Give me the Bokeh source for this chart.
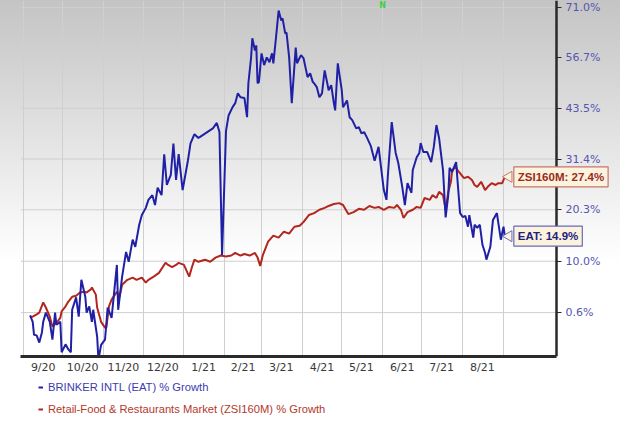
import numpy as np
from bokeh.plotting import figure
from bokeh.layouts import column
from bokeh.models import Range1d, FixedTicker, Legend, LegendItem, Label
from bokeh.embed import file_html
from bokeh.resources import INLINE

# ---------------- data ----------------
eat_dates = [
    "2020-09-06", "2020-09-08", "2020-09-09", "2020-09-11", "2020-09-13", "2020-09-15", "2020-09-16",
    "2020-09-18", "2020-09-21", "2020-09-23", "2020-09-25", "2020-09-26", "2020-09-29", "2020-09-30",
    "2020-10-03", "2020-10-05", "2020-10-07", "2020-10-08", "2020-10-11", "2020-10-13", "2020-10-15",
    "2020-10-18", "2020-10-19", "2020-10-21", "2020-10-23", "2020-10-24", "2020-10-27", "2020-10-28",
    "2020-10-30", "2020-11-02", "2020-11-04", "2020-11-07", "2020-11-11", "2020-11-12", "2020-11-15",
    "2020-11-18", "2020-11-20", "2020-11-23", "2020-11-25", "2020-11-28", "2020-11-30", "2020-12-03",
    "2020-12-05", "2020-12-08", "2020-12-10", "2020-12-12", "2020-12-15", "2020-12-17", "2020-12-19",
    "2020-12-22", "2020-12-24", "2020-12-26", "2020-12-28", "2020-12-31", "2021-01-04", "2021-01-06",
    "2021-01-09", "2021-01-12", "2021-01-13", "2021-01-23", "2021-01-26", "2021-01-28", "2021-01-30",
    "2021-02-02", "2021-02-04", "2021-02-07", "2021-02-09", "2021-02-11", "2021-02-13", "2021-02-16",
    "2021-02-18", "2021-02-19", "2021-02-21", "2021-02-22", "2021-02-24", "2021-02-25", "2021-02-26",
    "2021-02-27", "2021-03-01", "2021-03-03", "2021-03-05", "2021-03-07", "2021-03-09", "2021-03-10",
    "2021-03-12", "2021-03-14", "2021-03-16", "2021-03-17", "2021-03-19", "2021-03-20", "2021-03-22",
    "2021-03-24", "2021-03-27", "2021-03-28", "2021-03-31", "2021-04-02", "2021-04-05", "2021-04-07",
    "2021-04-09", "2021-04-10", "2021-04-12", "2021-04-14", "2021-04-16", "2021-04-18", "2021-04-20",
    "2021-04-21", "2021-04-23", "2021-04-25", "2021-04-26", "2021-04-28", "2021-05-01", "2021-05-02",
    "2021-05-05", "2021-05-07", "2021-05-09", "2021-05-12", "2021-05-14", "2021-05-16", "2021-05-18",
    "2021-05-20", "2021-05-23", "2021-05-26", "2021-05-29", "2021-06-02", "2021-06-04", "2021-06-05",
    "2021-06-08", "2021-06-11", "2021-06-13", "2021-06-16", "2021-06-18", "2021-06-20", "2021-06-23",
    "2021-06-24", "2021-06-27", "2021-06-29", "2021-06-30", "2021-07-02", "2021-07-05", "2021-07-08",
    "2021-07-10", "2021-07-12", "2021-07-14", "2021-07-17", "2021-07-19", "2021-07-21", "2021-07-22",
    "2021-07-24", "2021-07-26", "2021-07-27", "2021-07-28", "2021-07-30", "2021-08-01", "2021-08-03",
    "2021-08-05", "2021-08-06", "2021-08-09", "2021-08-10", "2021-08-12", "2021-08-14", "2021-08-16",
    "2021-08-18", "2021-08-19", "2021-08-22", "2021-08-24", "2021-08-27", "2021-08-28", "2021-08-30",
    "2021-09-01", "2021-09-02",
]
eat_growth = [
    0.1, -1.0, -3.2, -3.3, -4.5, -2.8, -1.0,
    0.6, -1.0, -4.0, 0.6, -1.5, -1.0, -6.1,
    -4.8, -5.6, -6.1, 1.1, 3.3, -0.1, 6.5,
    3.4, 0.6, 1.7, -1.0, 1.1, -3.5, -7.3,
    -4.9, -4.0, 1.5, -0.3, 9.3, 1.1, 7.1,
    11.8, 9.9, 14.2, 12.8, 17.2, 19.2, 20.7,
    22.4, 23.4, 21.3, 25.0, 23.4, 32.5, 25.6,
    27.8, 35.0, 26.7, 32.5, 24.5, 31.0, 35.0,
    37.2, 36.3, 36.5, 38.6, 39.9, 37.7, 11.2,
    38.0, 41.8, 43.8, 44.8, 47.3, 46.3, 46.1,
    41.3, 49.9, 56.5, 62.1, 58.7, 60.1, 49.9,
    50.2, 57.9, 54.7, 56.8, 55.5, 57.9, 55.2,
    62.3, 70.1, 67.2, 67.8, 63.5, 63.7, 56.8,
    44.8, 59.5, 55.2, 57.4, 56.5, 51.5, 52.5,
    50.2, 49.9, 48.9, 46.3, 47.3, 53.3, 49.9,
    48.1, 49.4, 44.8, 43.0, 55.2, 48.1, 43.8,
    45.5, 41.3, 40.6, 38.6, 38.9, 37.4, 37.7,
    36.5, 34.5, 31.0, 34.2, 24.5, 22.4, 27.4,
    40.1, 32.8, 30.5, 25.2, 21.3, 26.0, 23.9,
    28.9, 31.8, 32.8, 35.1, 33.0, 33.0, 30.7,
    34.2, 39.4, 36.3, 28.9, 18.7, 23.4, 29.4,
    28.5, 30.0, 30.7, 26.7, 19.6, 18.8, 19.0,
    16.8, 19.2, 14.6, 17.2, 16.6, 17.2, 13.2,
    11.6, 10.3, 12.8, 18.2, 19.6, 17.7, 14.2,
    16.8, 14.9,
]

zsi_dates = [
    "2020-09-06", "2020-09-08", "2020-09-11", "2020-09-13", "2020-09-16", "2020-09-18", "2020-09-21",
    "2020-09-23", "2020-09-26", "2020-09-29", "2020-09-30", "2020-10-03", "2020-10-05", "2020-10-08",
    "2020-10-11", "2020-10-14", "2020-10-17", "2020-10-19", "2020-10-22", "2020-10-23", "2020-10-26",
    "2020-10-27", "2020-10-30", "2020-11-02", "2020-11-03", "2020-11-05", "2020-11-07", "2020-11-11",
    "2020-11-13", "2020-11-15", "2020-11-19", "2020-11-23", "2020-11-26", "2020-11-30", "2020-12-03",
    "2020-12-05", "2020-12-09", "2020-12-13", "2020-12-18", "2020-12-20", "2020-12-23", "2020-12-26",
    "2020-12-28", "2021-01-01", "2021-01-05", "2021-01-07", "2021-01-09", "2021-01-12", "2021-01-17",
    "2021-01-21", "2021-01-25", "2021-01-29", "2021-02-02", "2021-02-06", "2021-02-09", "2021-02-13",
    "2021-02-16", "2021-02-20", "2021-02-24", "2021-02-26", "2021-02-28", "2021-03-02", "2021-03-06",
    "2021-03-10", "2021-03-14", "2021-03-18", "2021-03-22", "2021-03-26", "2021-03-30", "2021-04-02",
    "2021-04-06", "2021-04-10", "2021-04-14", "2021-04-18", "2021-04-21", "2021-04-25", "2021-04-29",
    "2021-05-02", "2021-05-06", "2021-05-10", "2021-05-14", "2021-05-18", "2021-05-22", "2021-05-26",
    "2021-05-29", "2021-06-02", "2021-06-06", "2021-06-10", "2021-06-12", "2021-06-15", "2021-06-17",
    "2021-06-20", "2021-06-24", "2021-06-27", "2021-06-30", "2021-07-03", "2021-07-07", "2021-07-09",
    "2021-07-12", "2021-07-14", "2021-07-17", "2021-07-19", "2021-07-21", "2021-07-23", "2021-07-24",
    "2021-07-27", "2021-07-28", "2021-07-31", "2021-08-02", "2021-08-05", "2021-08-08", "2021-08-10",
    "2021-08-12", "2021-08-15", "2021-08-18", "2021-08-20", "2021-08-23", "2021-08-26", "2021-08-28",
    "2021-08-31", "2021-09-02",
]
zsi_growth = [
    -0.1, -0.1, 0.3, 0.6, 2.4, 1.5, -0.1,
    -1.8, -1.2, -0.3, 0.8, 1.7, 2.5, 3.4,
    3.6, 4.2, 4.3, 4.2, 4.7, 5.1, 3.8,
    1.5, -1.0, -2.0, -2.0, 1.7, 2.9, 4.3,
    3.4, 5.6, 6.5, 6.9, 6.5, 6.9, 6.0,
    6.5, 7.1, 7.8, 9.7, 9.3, 8.9, 9.3,
    9.7, 9.3, 7.1, 8.8, 10.3, 9.9, 10.3,
    9.9, 10.7, 11.1, 10.9, 11.1, 11.6, 11.1,
    11.4, 11.1, 11.6, 10.7, 9.1, 11.2, 13.8,
    15.0, 14.6, 15.8, 15.4, 16.8, 17.0, 17.8,
    19.2, 19.6, 20.3, 20.7, 21.1, 21.5, 21.7,
    21.3, 19.4, 19.8, 20.5, 20.3, 21.1, 20.7,
    20.9, 20.3, 20.9, 20.7, 21.3, 20.3, 18.6,
    19.8, 20.3, 20.9, 20.7, 22.8, 22.4, 23.4,
    22.8, 24.1, 23.4, 20.3, 24.1, 26.3, 28.9,
    29.6, 28.9, 27.8, 27.1, 27.4, 26.7, 25.6,
    25.2, 26.3, 24.5, 25.2, 26.0, 25.6, 26.0,
    26.0, 27.4,
]

y_tick_values = [0.6, 10.0, 20.3, 31.4, 43.5, 56.7, 71.0]
y_tick_labels = ["0.6%", "10.0%", "20.3%", "31.4%", "43.5%", "56.7%", "71.0%"]

month_starts = ["2020-09-01", "2020-10-01", "2020-11-01", "2020-12-01", "2021-01-01", "2021-02-01",
                "2021-03-01", "2021-04-01", "2021-05-01", "2021-06-01", "2021-07-01", "2021-08-01",
                "2021-09-01"]
month_label_dates = ["2020-09-16", "2020-10-16", "2020-11-16", "2020-12-16", "2021-01-16", "2021-02-15",
                     "2021-03-16", "2021-04-16", "2021-05-16", "2021-06-16", "2021-07-16", "2021-08-16"]
month_labels = ["9/20", "10/20", "11/20", "12/20", "1/21", "2/21", "3/21", "4/21", "5/21", "6/21",
                "7/21", "8/21"]

series_names = ["BRINKER INTL (EAT) % Growth", "Retail-Food & Restaurants Market (ZSI160M) % Growth"]
end_labels = ["EAT: 14.9%", "ZSI160M: 27.4%"]

# ---------------- helpers ----------------
DAY = 86400e3


def ms(dates):
    return np.array(dates, dtype="datetime64[ms]").astype("int64").astype(float)


def factor(values):
    return 1.0 + np.asarray(values, dtype=float) / 100.0


eat_x, zsi_x = ms(eat_dates), ms(zsi_dates)
eat_y, zsi_y = factor(eat_growth), factor(zsi_growth)

# layout of the time axis (pixels -> days)
day_per_px = 365.0 / 480.0
first_month = ms(month_starts)[0]
last_month = ms(month_starts)[-1]
x_start = first_month - 3 * day_per_px * DAY
x_axis = last_month + 53 * day_per_px * DAY
x_end = x_axis + 64 * day_per_px * DAY

BLUE = "#2020a6"
RED = "#b3261e"
BLUE_TXT = "#3b3bb0"
RED_TXT = "#b3382c"
GRID = "#cfcfcf"

p = figure(width=620, height=376, output_backend="svg", toolbar_location=None,
           y_axis_type="log", y_axis_location="right",
           x_range=Range1d(x_start, x_end), y_range=Range1d(0.9321, 1.7310),
           min_border_left=20, min_border_right=0, min_border_top=0, min_border_bottom=19)

p.background_fill_color = None
p.border_fill_color = None
p.outline_line_color = None
p.styles = {"background": "linear-gradient(180deg, #c4c4c4 0%, #d8d8d8 24%, #ebebeb 46%, #f9f9f9 62%, #ffffff 70%)"}

# grids
p.xgrid.ticker = FixedTicker(ticks=list(ms(month_starts)))
p.xgrid.grid_line_color = GRID
p.xgrid.grid_line_width = 1
p.ygrid.visible = False
yt = [float(v) for v in factor(y_tick_values)]
p.segment(x0=[x_start] * len(yt), x1=[x_axis] * len(yt), y0=yt, y1=yt, line_color=GRID, line_width=1)

# y axis drawn at a fixed position inside the frame
p.yaxis.fixed_location = x_axis
p.yaxis.ticker = FixedTicker(ticks=yt)
p.yaxis.major_label_overrides = {t: lab for t, lab in zip(yt, y_tick_labels)}
p.yaxis.axis_line_color = "#2a2a2a"
p.yaxis.axis_line_width = 2.5
p.yaxis.major_tick_line_color = "#2a2a2a"
p.yaxis.major_tick_in = 0
p.yaxis.major_tick_out = 5
p.yaxis.minor_tick_line_color = None
p.yaxis.major_label_text_color = "#5656b0"
p.yaxis.major_label_text_font = "DejaVu Sans"
p.yaxis.major_label_text_font_size = "11px"
p.yaxis.major_label_standoff = 4

# x axis
xt = [float(v) for v in ms(month_label_dates)]
p.xaxis.ticker = FixedTicker(ticks=xt)
p.xaxis.bounds = (x_start, x_axis)
p.xaxis.major_label_overrides = {t: lab for t, lab in zip(xt, month_labels)}
p.xaxis.axis_line_color = "#2a2a2a"
p.xaxis.axis_line_width = 3
p.xaxis.major_tick_line_color = None
p.xaxis.major_tick_out = 0
p.xaxis.major_tick_in = 0
p.xaxis.minor_tick_line_color = None
p.xaxis.major_label_text_color = "#3a3a3a"
p.xaxis.major_label_text_font = "DejaVu Sans"
p.xaxis.major_label_text_font_size = "11px"
p.xaxis.major_label_standoff = 4

# lines
p.line(zsi_x, zsi_y, line_color=RED, line_width=2)
p.line(eat_x, eat_y, line_color=BLUE, line_width=2)

# callouts at the line ends
for txt, xx, yy, tcol, bcol in [(end_labels[1], zsi_x[-1], zsi_y[-1], "#9c2a22", "#c4766c"),
                                (end_labels[0], eat_x[-1], eat_y[-1], "#23237f", "#6a6ab8")]:
    p.scatter([xx + 3 * DAY], [yy], marker="triangle", angle=np.pi / 2, size=11,
              fill_color="#fbf3dd", line_color=bcol, line_width=1)
    p.add_layout(Label(x=xx, y=yy, x_offset=9, text=txt, text_align="left", text_baseline="middle",
                       text_font="Liberation Sans", text_font_style="bold", text_font_size="11.5px",
                       text_color=tcol, background_fill_color="#fbf3dd", border_line_color=bcol,
                       border_line_width=1.2, padding=4))

p.add_layout(Label(x=ms(["2021-06-01"])[0], y=1.7310, text="N", text_align="center",
                   text_baseline="top", text_font="DejaVu Sans", text_font_style="bold",
                   text_font_size="8px", text_color="#3bd23b"))

# ---------------- legend strip ----------------
q = figure(width=620, height=47, output_backend="svg", toolbar_location=None,
           x_axis_location=None, y_axis_location=None, x_range=(0, 1), y_range=(0, 1),
           min_border=0)
q.outline_line_color = None
q.background_fill_color = None
q.border_fill_color = None
q.grid.visible = False

# off-range samples: only their legend glyphs are seen
r1 = q.line(x=[5, 6], y=[5, 6], line_color=BLUE, line_width=2)
r2 = q.line(x=[5, 6], y=[5, 6], line_color=RED, line_width=2)
for name, rend, col, loc in [(series_names[0], r1, BLUE_TXT, (18, 25)),
                             (series_names[1], r2, RED_TXT, (18, 3))]:
    lg = Legend(items=[LegendItem(label=name, renderers=[rend])], location=loc,
                padding=0, margin=0, spacing=0,
                glyph_width=5, glyph_height=22, label_height=22, label_standoff=5,
                label_text_color=col, label_text_font="Liberation Sans", label_text_font_size="11.2px",
                border_line_color=None, background_fill_alpha=0)
    q.add_layout(lg)

layout = column(p, q, spacing=0)
open("out.html", "w").write(file_html(layout, INLINE))
